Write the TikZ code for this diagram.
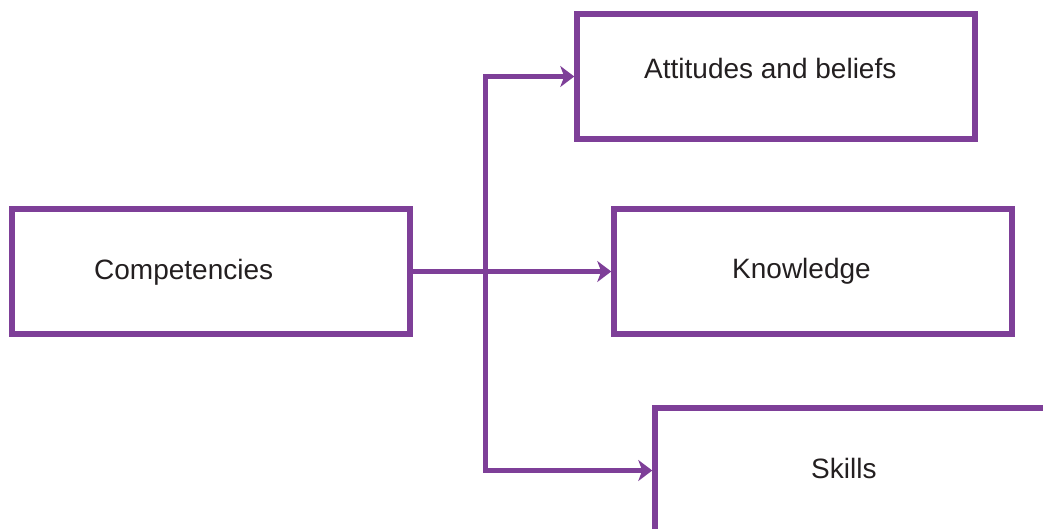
\documentclass[tikz,border=0pt]{standalone}
\usepackage{fontspec}
\setmainfont{Liberation Sans}
\usetikzlibrary{arrows.meta}
\definecolor{plum}{RGB}{126,63,152}
\definecolor{ink}{RGB}{35,31,32}
\begin{document}
\begin{tikzpicture}[x=1pt,y=-1pt,
  box/.style={draw=plum, line width=5.5pt, rectangle, inner sep=0pt,
    minimum width=398pt, minimum height=125pt},
  conn/.style={draw=plum, line width=5.5pt,
    -{Stealth[length=14pt,width=21pt,inset=4pt]}},
  label/.style={anchor=base west, inner sep=0pt, text=ink,
    font=\fontsize{28}{33}\selectfont}]
  \useasboundingbox (0,0) rectangle (1043,528);
  \clip (0,0) rectangle (1043,528);

  % boxes
  \node[box] (comp) at (211,271.5) {};
  \node[box] (att)  at (776,76.5) {};
  \node[box] (know) at (813,271.5) {};
  \node[box] (skl)  at (854,470.5) {};

  % texts
  \node[label] (tcomp) at (94,279) {Competencies};
  \node[label] (tatt)  at (644,78) {Attitudes and beliefs};
  \node[label] (tknow) at (732,278) {Knowledge};
  \node[label] (tskl)  at (811,478) {Skills};

  % connectors
  \coordinate (hub) at (485.5,271.5);
  \draw[conn] (comp.east) -- (know.west);
  \draw[conn] (hub) |- (att.west);
  \draw[conn] (hub) |- (skl.west);
\end{tikzpicture}
\end{document}
